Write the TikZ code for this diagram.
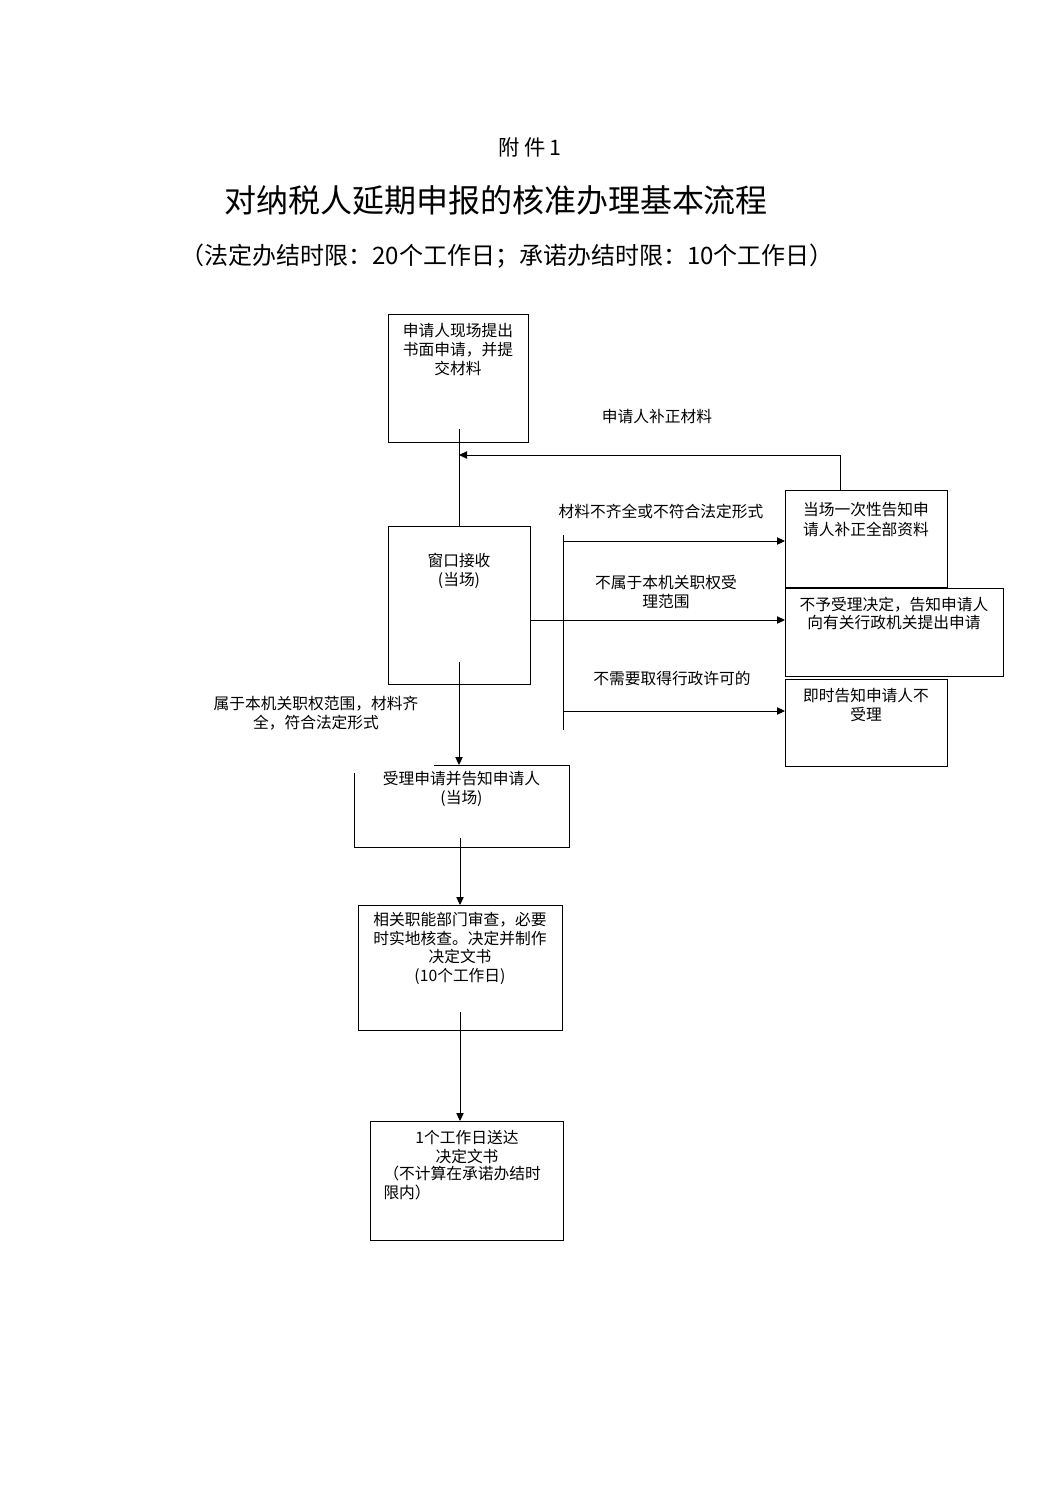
\documentclass[tikz,border=0pt]{standalone}
\usepackage{fontspec}
\setmainfont{Noto Sans CJK SC}
\usetikzlibrary{arrows.meta}
\begin{document}
\begin{tikzpicture}[x=0.75pt,y=-0.75pt, line width=0.75pt,
  box/.style={draw, inner sep=0pt, outer sep=0pt},
  ghost/.style={inner sep=0pt, outer sep=0pt},
  txt/.style={align=center, inner sep=0pt, font=\fontsize{11.8pt}{13.9pt}\selectfont},
  arr/.style={-{Triangle[length=6pt,width=5.5pt]}}]
\useasboundingbox (0,0) rectangle (1058,1497);

% titles
\node[inner sep=0pt, font=\fontsize{16pt}{18pt}\selectfont] (fj) at (530,147) {附\hspace{3pt}件\hspace{3pt}1};
\node[inner sep=0pt, font=\fontsize{24pt}{28pt}\selectfont] (title) at (496,200) {对纳税人延期申报的核准办理基本流程};
\node[inner sep=0pt, font=\fontsize{18pt}{22pt}\selectfont] (sub) at (507,256) {（法定办结时限：20个工作日；承诺办结时限：10个工作日）};

% boxes
\node[box, minimum width=105pt, minimum height=96pt] (b1) at (458,378) {};
\node[box, minimum width=106.5pt, minimum height=118.5pt] (b2) at (459,605) {};
\node[box, minimum width=121.5pt, minimum height=72.75pt] (b3) at (866,538.5) {};
\node[box, minimum width=163.5pt, minimum height=66pt] (b4) at (894,632) {};
\node[box, minimum width=121.5pt, minimum height=65.25pt] (b5) at (866,722.5) {};
\node[ghost, minimum width=161.25pt, minimum height=61.5pt] (b6) at (461.5,806) {};
\draw ([xshift=60pt]b6.north west) -- (b6.north east) -- (b6.south east) -- (b6.south west) -- ([yshift=-6pt]b6.north west);
\node[box, minimum width=153pt, minimum height=93.75pt] (b7) at (460,967.5) {};
\node[box, minimum width=144.75pt, minimum height=89.25pt] (b8) at (466.5,1180.5) {};

% box texts
\node[txt] (t1) at (458,349.5) {申请人现场提出\\书面申请，并提\\交材料};
\node[txt] (t2) at (459,571) {窗口接收\\(当场)};
\node[txt, font=\fontsize{11.8pt}{15pt}\selectfont] (t3) at (866,519.5) {当场一次性告知申\\请人补正全部资料};
\node[txt] (t4) at (894,613.5) {不予受理决定，告知申请人\\向有关行政机关提出申请};
\node[txt] (t5) at (866,705) {即时告知申请人不\\受理};
\node[txt] (t6) at (461.5,789) {受理申请并告知申请人\\(当场)};
\node[txt] (t7) at (460,948.5) {相关职能部门审查，必要\\时实地核查。决定并制作\\决定文书\\(10个工作日)};
\node[txt] (t8a) at (467,1147) {1个工作日送达\\决定文书};
\node[txt, align=left, anchor=west] (t8b) at (383,1183) {（不计算在承诺办结时\\限内）};

% labels
\node[txt] (l1) at (657,417) {申请人补正材料};
\node[txt] (l2) at (661,511) {材料不齐全或不符合法定形式};
\node[txt] (l3) at (666,592) {不属于本机关职权受\\理范围};
\node[txt] (l4) at (672,679) {不需要取得行政许可的};
\node[txt] (l5) at (316,713) {属于本机关职权范围，材料齐\\全，符合法定形式};

% connector points
\coordinate (p1) at (459,429);
\coordinate (ret) at (840,455);
\coordinate (merge) at (459,455);
\coordinate (brt) at (563,535);
\coordinate (brb) at (563,730);
\coordinate (a1) at (563,541);
\coordinate (a2) at (530,620);
\coordinate (a3) at (563,711);
\coordinate (p2) at (459,662);
\coordinate (p6) at (460,838);
\coordinate (p7) at (460,1012);

% connectors
\draw (p1) -- (p1 |- b2.north);
\draw[arr] (ret |- b3.north) -- (ret) -- (merge);
\draw (brt) -- (brb);
\draw[arr] (a1) -- (a1 -| b3.west);
\draw[arr] (a2) -- (a2 -| b4.west);
\draw[arr] (a3) -- (a3 -| b5.west);
\draw[arr] (p2) -- (p2 |- b6.north);
\draw[arr] (p6) -- (p6 |- b7.north);
\draw[arr] (p7) -- (p7 |- b8.north);
\end{tikzpicture}
\end{document}
